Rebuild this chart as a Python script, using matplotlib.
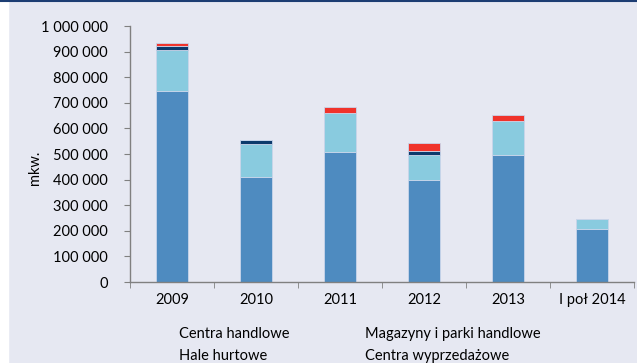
import matplotlib.pyplot as plt
from matplotlib.ticker import FuncFormatter
from matplotlib.lines import Line2D
import numpy as np

plt.rcParams['font.family'] = ['Lato', 'DejaVu Sans']

years = ["2009", "2010", "2011", "2012", "2013", "I poł 2014"]
centra_handlowe = [748000, 410000, 508000, 398000, 496000, 207000]
magazyny = [159000, 130000, 153000, 99000, 133000, 38000]
hale_hurtowe = [16000, 13000, 0, 16000, 0, 0]
centra_wyprzedazowe = [11000, 0, 23000, 29000, 22000, 0]

series = [
    ("Centra handlowe", centra_handlowe, "#4e8bc0"),
    ("Magazyny i parki handlowe", magazyny, "#89cbdf"),
    ("Hale hurtowe", hale_hurtowe, "#0c3a6c"),
    ("Centra wyprzedażowe", centra_wyprzedazowe, "#f0332b"),
]

bg = "#e6e8f2"
fig = plt.figure(figsize=(6.37, 3.63), dpi=100, facecolor=bg)
ax = fig.add_axes([130 / 637, 1 - 282 / 363, 504 / 637, 256 / 363])
ax.set_facecolor(bg)

x = np.arange(len(years))
bottom = np.zeros(len(years))
for name, vals, col in series:
    vals = np.array(vals, dtype=float)
    ax.bar(x, vals, 0.39, bottom=bottom, color=col, label=name,
           edgecolor="#c9d5ea", linewidth=0.6)
    bottom += vals

ax.set_xlim(-0.5, len(years) - 0.5)
ax.set_ylim(0, 1000000)
ax.set_yticks(np.arange(0, 1000001, 100000))
ax.yaxis.set_major_formatter(FuncFormatter(lambda v, p: "{:,.0f}".format(v).replace(",", " ")))
ax.set_xticks(x)
ax.set_xticklabels(years)
# ticks on category boundaries, labels centred under the bars
ax.set_xticks(np.arange(-0.5, len(years)), minor=True)
ax.tick_params(axis="x", which="major", length=0, pad=8, labelsize=10.5)
ax.tick_params(axis="x", which="minor", length=4, color="#808080", direction="out")
ax.tick_params(axis="y", length=4, color="#808080", labelsize=10.5, pad=12)

for s in ["top", "right"]:
    ax.spines[s].set_visible(False)
for s in ["left", "bottom"]:
    ax.spines[s].set_color("#808080")
    ax.spines[s].set_linewidth(1)

ax.set_ylabel("mkw.", fontsize=10.5, va="center")
ax.yaxis.set_label_coords(-0.188, 0.445)

handles = [Line2D([], [], linestyle="none") for _ in series]
labels = [s[0] for s in series]
# column-major order: left column first
order = [0, 2, 1, 3]
leg = fig.legend([handles[i] for i in order], [labels[i] for i in order],
                 ncol=2, loc="upper left", bbox_to_anchor=(166 / 637, 1 - 314 / 363),
                 frameon=False, fontsize=10.5, handlelength=0, handletextpad=0,
                 columnspacing=5.2, labelspacing=0.55)

# white strip on the left and dark rule along the top
fig.patches.append(plt.Rectangle((0, 0), 8 / 637, 1, transform=fig.transFigure,
                                 color="white", zorder=0))
fig.add_artist(Line2D([0, 1], [1 - 1 / 363, 1 - 1 / 363], transform=fig.transFigure,
                      color="#1c3d73", linewidth=1.5))

fig.savefig("out.png", dpi=100, facecolor=bg)
